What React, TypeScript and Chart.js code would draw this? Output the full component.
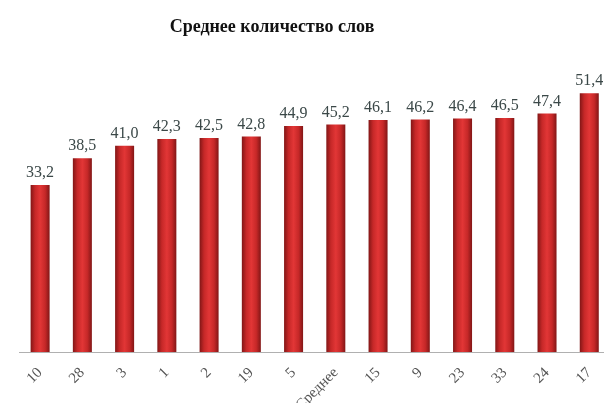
import React, { useEffect, useRef } from "react";
import { Chart, registerables } from "chart.js";

Chart.register(...registerables);

const categories = ["10", "28", "3", "1", "2", "19", "5", "Среднее", "15", "9", "23", "33", "24", "17"];
const values = [33.2, 38.5, 41.0, 42.3, 42.5, 42.8, 44.9, 45.2, 46.1, 46.2, 46.4, 46.5, 47.4, 51.4];
const titleText = "Среднее количество слов";

const fmt = (v: number) => v.toFixed(1).replace(".", ",");

export default function App() {
  const ref = useRef<HTMLCanvasElement | null>(null);
  useEffect(() => {
    document.body.style.margin = "0";
    document.body.style.overflow = "hidden";
    document.documentElement.style.overflow = "hidden";
    const canvas = ref.current!;
    const labelPlugin = {
      id: "valueLabels",
      afterDatasetsDraw(chart: any) {
        const ctx = chart.ctx;
        const meta = chart.getDatasetMeta(0);
        ctx.save();
        ctx.font = "16px 'Liberation Serif', 'DejaVu Serif', serif";
        ctx.fillStyle = "#3b4848";
        ctx.textAlign = "center";
        ctx.textBaseline = "bottom";
        meta.data.forEach((bar: any, i: number) => {
          ctx.fillText(fmt(values[i]), bar.x, bar.y - 4);
        });
        ctx.restore();
      },
    };
    const titlePlugin = {
      id: "customTitle",
      afterDraw(chart: any) {
        const ctx = chart.ctx;
        ctx.save();
        ctx.font = "bold 18px 'Liberation Serif', 'DejaVu Serif', serif";
        ctx.fillStyle = "#111";
        ctx.textAlign = "center";
        ctx.textBaseline = "middle";
        ctx.fillText(titleText, 272, 27);
        ctx.restore();
      },
    };
    const chart = new Chart(canvas, {
      type: "bar",
      data: {
        labels: categories,
        datasets: [
          {
            data: values,
            barPercentage: 0.45,
            categoryPercentage: 1,
            backgroundColor: (c: any) => {
              const ch = c.chart;
              const xs = ch.scales && ch.scales.x;
              if (!xs || c.dataIndex === undefined) return "#c82828";
              const x = xs.getPixelForValue(c.dataIndex);
              if (!Number.isFinite(x)) return "#c82828";
              const g = ch.ctx.createLinearGradient(x - 10, 0, x + 10, 0);
              g.addColorStop(0, "#7a1414");
              g.addColorStop(0.25, "#c62828");
              g.addColorStop(0.5, "#e23636");
              g.addColorStop(0.75, "#c62828");
              g.addColorStop(1, "#7a1414");
              return g;
            },
            borderWidth: 0,
          },
        ],
      },
      options: {
        animation: false,
        responsive: true,
        maintainAspectRatio: false,
        layout: { padding: { top: 50, left: 19, right: 0, bottom: 0 } },
        plugins: { legend: { display: false }, title: { display: false }, tooltip: { enabled: false } },
        scales: {
          x: {
            grid: { display: false, drawTicks: false },
            border: { display: true, color: "#b0b0b0", width: 1 },
            ticks: {
              color: "#555",
              font: { size: 15, family: "'Liberation Serif', 'DejaVu Serif', serif" },
              minRotation: 45,
              maxRotation: 45,
              padding: 12,
              autoSkip: false,
            },
            afterFit: (s: any) => {
              s.height = 51;
            },
          },
          y: {
            display: false,
            min: 0,
            max: 60,
          },
        },
      },
      plugins: [labelPlugin, titlePlugin],
    });
    return () => chart.destroy();
  }, []);
  return (
    <div style={{ position: "absolute", left: 0, top: 0, width: 614, height: 403 }}>
      <canvas ref={ref} />
    </div>
  );
}
